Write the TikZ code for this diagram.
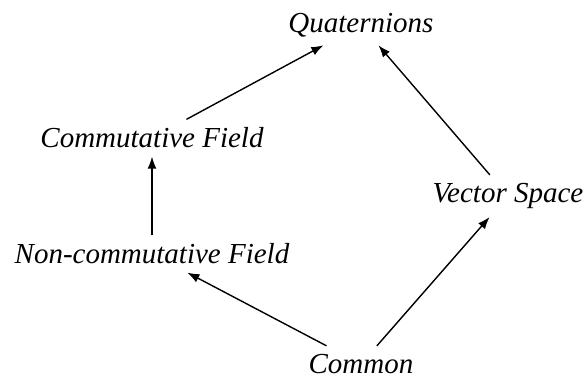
\documentclass[tikz,border=0pt]{standalone}
\usepackage{fontspec}
\setmainfont{Liberation Serif}
\usetikzlibrary{arrows.meta,positioning}

\begin{document}
\begin{tikzpicture}[
  on grid,
  lbl/.style={font=\fontsize{14.5}{17}\selectfont\itshape,inner sep=4pt},
  arr/.style={-{Latex[length=6pt,width=4.5pt]},line width=0.7pt}
]
\useasboundingbox (-180.5pt,-7.5pt) rectangle (112.5pt,182pt);
\node[lbl] (common) at (0,0) {Common};
\node[lbl,above left=55pt and 104.5pt of common] (noncomm) {Non-commutative Field};
\node[lbl,above=58pt of noncomm] (comm) {Commutative Field};
\node[lbl,above right=84pt and 73.5pt of common] (vspace) {Vector Space};
\node[lbl,above=169.5pt of common] (quat) {Quaternions};
\draw[arr] (common)--(noncomm); \draw[arr] (noncomm)--(comm);
\draw[arr] (comm)--(quat); \draw[arr] (common)--(vspace);
\draw[arr] (vspace)--(quat);
\end{tikzpicture}
\end{document}
